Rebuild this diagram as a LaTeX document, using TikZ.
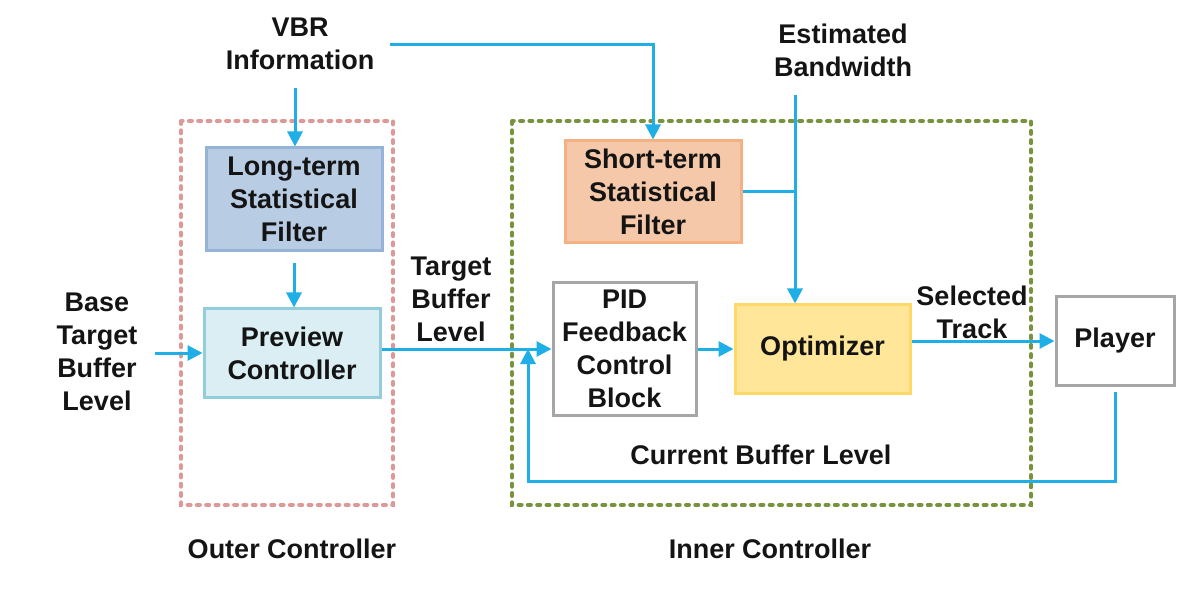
\documentclass[tikz,border=0pt]{standalone}
\usepackage{fontspec}
\setmainfont{Liberation Sans}
\usetikzlibrary{arrows.meta}
\definecolor{arrc}{RGB}{32,174,230}
\definecolor{pinkd}{RGB}{222,152,150}
\definecolor{greend}{RGB}{119,147,60}
\definecolor{ltfill}{RGB}{184,204,228}
\definecolor{ltdraw}{RGB}{149,179,215}
\definecolor{pvfill}{RGB}{218,238,243}
\definecolor{pvdraw}{RGB}{146,205,220}
\definecolor{stfill}{RGB}{245,200,170}
\definecolor{stdraw}{RGB}{244,177,131}
\definecolor{opfill}{RGB}{255,230,153}
\definecolor{opdraw}{RGB}{255,217,102}
\definecolor{grayd}{RGB}{166,166,166}
\definecolor{txt}{RGB}{20,20,20}
\tikzset{
  every node/.style={font=\fontsize{27}{33}\selectfont\bfseries, text=txt, align=center},
  blk/.style={draw, line width=3pt, inner sep=0pt},
  lbl/.style={inner sep=0pt},
  arr/.style={draw=arrc, line width=3pt, -{Triangle[length=15pt,width=15pt]}},
  ln/.style={draw=arrc, line width=3pt},
  grp/.style={line width=4pt, line cap=round, dash pattern=on 3pt off 6.3pt},
}
\begin{document}
\begin{tikzpicture}[x=1pt,y=-1pt]
\useasboundingbox (0,0) rectangle (1202,612);
% group boxes
\draw[grp, draw=pinkd] (181,121) rectangle (393,505);
\draw[grp, draw=greend] (512,121) rectangle (1031,505);
% blocks
\node[blk, draw=ltdraw, fill=ltfill, minimum width=176pt, minimum height=103pt] (longterm) at (294,199.5) {Long-term\\Statistical\\Filter};
\node[blk, draw=pvdraw, fill=pvfill, minimum width=176pt, minimum height=88pt] (preview) at (292,353) {Preview\\Controller};
\node[blk, draw=stdraw, fill=stfill, minimum width=176pt, minimum height=102pt] (shortterm) at (653,192) {Short-term\\Statistical\\Filter};
\node[blk, draw=grayd, fill=white, minimum width=143pt, minimum height=133pt] (pid) at (624.5,349) {PID\\Feedback\\Control\\Block};
\node[blk, draw=opdraw, fill=opfill, minimum width=175pt, minimum height=88pt] (optimizer) at (822.5,349) {Optimizer};
\node[blk, draw=grayd, fill=white, minimum width=118pt, minimum height=88pt] (player) at (1115,341) {Player};
% labels
\node[lbl] (vbr) at (300,44) {VBR\\Information};
\node[lbl] (bw) at (843,50) {Estimated\\Bandwidth};
\node[lbl] (base) at (97,352) {Base\\Target\\Buffer\\Level};
\node[lbl] (tbl) at (451,299) {Target\\Buffer\\Level};
\node[lbl] (sel) at (972,312) {Selected\\Track};
\node[lbl] (cbl) at (761,455) {Current Buffer Level};
\node[lbl] (outer) at (292,549) {Outer Controller};
\node[lbl] (inner) at (770,549) {Inner Controller};
% coordinates
\coordinate (vbrdown) at (295,88);
\coordinate (vbrright) at (390,45);
\coordinate (bwtop) at (795,95);
\coordinate (fbcorner) at (528,481);
\coordinate (basestart) at (155,353);
% connectors
\draw[arr] (vbrdown) -- (vbrdown |- longterm.north);
\draw[arr] ([yshift=-11pt]longterm.south) -- (longterm.south |- preview.north);
\draw[arr] (vbrright) -| (shortterm.north);
\draw[arr] (basestart) -- (preview.west);
\draw[arr] (preview.east |- pid.west) -- (pid.west);
\draw[arr] (pid.east) -- (optimizer.west);
\draw[arr] (bwtop) -- (bwtop |- optimizer.north);
\draw[ln] (shortterm.east) -- (shortterm.east -| bwtop);
\draw[arr] (optimizer.east |- player.west) -- (player.west);
\draw[arr] ([yshift=-5pt]player.south) |- (fbcorner) -- (fbcorner |- pid.west);
\end{tikzpicture}
\end{document}
